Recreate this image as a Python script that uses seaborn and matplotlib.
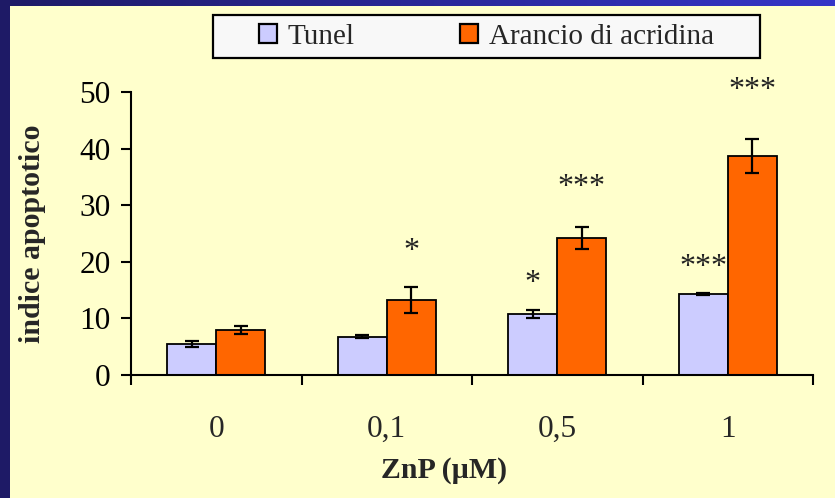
import numpy as np
import pandas as pd
import matplotlib
matplotlib.use("Agg")
import matplotlib.pyplot as plt
from matplotlib.patches import Rectangle, Patch
from matplotlib.colors import LinearSegmentedColormap
from matplotlib.ticker import FixedLocator, NullFormatter
import seaborn as sns

# Apoptotic index by ZnP dose, two staining methods
doses = ["0", "0,1", "0,5", "1"]
series = ["Tunel", "Arancio di acridina"]
tunel = [5.5, 6.8, 10.7, 14.3]
tunel_err = [0.5, 0.2, 0.7, 0.2]
acridina = [7.9, 13.3, 24.2, 38.7]
acridina_err = [0.7, 2.3, 1.9, 3.0]
# significance marks and the height of each mark
tunel_sig = ["", "", "*", "***"]
acridina_sig = ["", "*", "***", "***"]
tunel_sig_y = [0, 0, 17.7, 20.5]
acridina_sig_y = [0, 23.3, 34.6, 51.8]
yticks = [0, 10, 20, 30, 40, 50]

colors = ["#CCCCFF", "#FF6600"]
cream = "#FFFFCC"
navy = "#1E1A66"

sns.set_theme(style="white")
plt.rcParams["font.family"] = ["Liberation Serif", "DejaVu Serif"]

df = pd.DataFrame({
    "dose": doses * 2,
    "serie": [series[0]] * len(doses) + [series[1]] * len(doses),
    "valore": tunel + acridina,
})

W, H = 835, 498
fig = plt.figure(figsize=(W / 100, H / 100), dpi=100, facecolor=cream)
ax = fig.add_axes([131 / W, 1 - 375 / H, (813 - 131) / W, (375 - 92) / H])
ax.set_facecolor(cream)

sns.barplot(data=df, x="dose", y="valore", hue="serie", order=doses,
            hue_order=series, palette=colors, width=0.575, errorbar=None,
            edgecolor="black", linewidth=1.3, saturation=1, ax=ax)
if ax.get_legend() is not None:
    ax.get_legend().remove()

errs = [tunel_err, acridina_err]
sigs = [tunel_sig, acridina_sig]
sig_ys = [tunel_sig_y, acridina_sig_y]
for cont, err, sig, sy in zip(ax.containers, errs, sigs, sig_ys):
    xs = [b.get_x() + b.get_width() / 2 for b in cont]
    hs = [b.get_height() for b in cont]
    ax.errorbar(xs, hs, yerr=err, fmt="none", ecolor="black",
                elinewidth=1.6, capsize=5, capthick=1.6, zorder=5)
    for x, s, y in zip(xs, sig, sy):
        if s:
            ax.annotate(s, xy=(x, y), xytext=(0, -11.5),
                        textcoords="offset points", ha="center",
                        va="baseline", fontsize=23, color="#222222",
                        annotation_clip=False)

ax.set_ylim(0, 50)
ax.set_xlim(-0.5, len(doses) - 0.5)
ax.set_yticks(yticks)
ax.set_yticklabels([str(v) for v in yticks])
ax.set_xticks(np.arange(len(doses) + 1) - 0.5)
ax.xaxis.set_major_formatter(NullFormatter())
ax.xaxis.set_minor_locator(FixedLocator(np.arange(len(doses))))
ax.set_xticklabels(doses, minor=True)

ax.tick_params(axis="y", which="major", length=7.2, width=1.5,
               direction="out", left=True, labelsize=22.5, pad=7.5,
               colors="black")
ax.tick_params(axis="x", which="major", length=7.2, width=1.5,
               direction="out", bottom=True, colors="black")
ax.tick_params(axis="x", which="minor", length=0, labelsize=22.5, pad=28.5)

for side in ["top", "right"]:
    ax.spines[side].set_visible(False)
for side in ["left", "bottom"]:
    ax.spines[side].set_color("black")
    ax.spines[side].set_linewidth(1.5)

ax.set_ylabel("indice apoptotico", fontsize=21.5, fontweight="bold")
ax.yaxis.set_label_coords((46 - 131) / 682, 0.5)
ax.set_xlabel("ZnP (\u00b5M)", fontsize=21.5, fontweight="bold")
ax.xaxis.set_label_coords((444 - 131) / 682, (375 - 457) / 283)

# legend box across the top
fig.add_artist(Rectangle((213 / W, 1 - 58 / H), (760 - 213) / W, 43 / H,
                         transform=fig.transFigure, facecolor="#F8F8F8",
                         edgecolor="black", linewidth=1.6, zorder=1))
handles = [Patch(facecolor=c, edgecolor="black", linewidth=1.6) for c in colors]
fig.legend(handles, series, ncol=2, loc="center",
           bbox_to_anchor=(486.5 / W, 1 - 36.5 / H), frameon=False,
           fontsize=21, handlelength=0.62, handleheight=0.62,
           handletextpad=0.38, columnspacing=3.6)

# dark blue frame on the left and top edges
fig.add_artist(Rectangle((0, 0), 10 / W, 1, transform=fig.transFigure,
                         facecolor=navy, linewidth=0, zorder=2))
band = fig.add_axes([0, 1 - 6 / H, 1, 6 / H])
band.imshow(np.linspace(0, 1, 256).reshape(1, -1), aspect="auto",
            cmap=LinearSegmentedColormap.from_list("band", [navy, "#3535C8"]))
band.set_axis_off()

fig.savefig("out.png", dpi=100, facecolor=cream)
